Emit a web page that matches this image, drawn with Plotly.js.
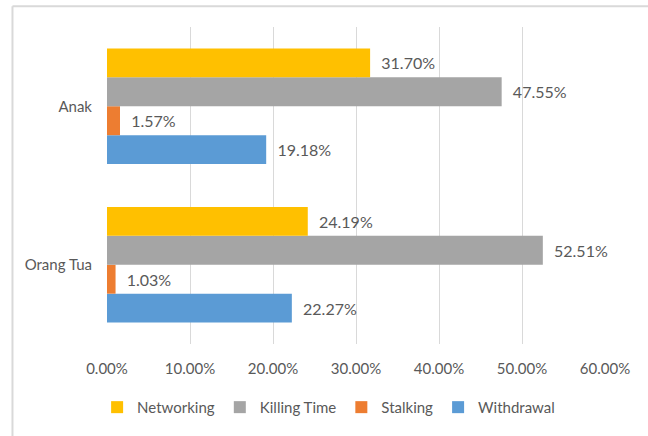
<!DOCTYPE html>
<html>
<head>
<meta charset="utf-8">
<script src="https://cdn.plot.ly/plotly-3.0.1.min.js"></script>
<style>
  html, body { margin: 0; padding: 0; background: #ffffff; }
  #chart { width: 648px; height: 436px; }
</style>
</head>
<body>
<div id="chart"></div>
<script>
const categories = ["Orang Tua", "Anak"];
const networking = [0.2419, 0.3170];
const killingTime = [0.5251, 0.4755];
const stalking = [0.0103, 0.0157];
const withdrawal = [0.2227, 0.1918];
const xTickVals = [0, 0.1, 0.2, 0.3, 0.4, 0.5, 0.6];

const FONT = "Lato, 'DejaVu Sans Condensed', sans-serif";
const TEXT_COLOR = "#595959";

function barTrace(name, values, color) {
  return {
    type: "bar",
    orientation: "h",
    name: name,
    y: categories,
    x: values,
    marker: { color: color },
    text: values,
    texttemplate: "\u00a0\u00a0%{x:.2%}",
    textposition: "outside",
    constraintext: "none",
    cliponaxis: false,
    textfont: { family: FONT, size: 16, color: TEXT_COLOR },
    hoverinfo: "skip"
  };
}

const data = [
  barTrace("Withdrawal", withdrawal, "#5B9BD5"),
  barTrace("Stalking", stalking, "#ED7D31"),
  barTrace("Killing Time", killingTime, "#A5A5A5"),
  barTrace("Networking", networking, "#FFC000")
];

const layout = {
  width: 648,
  height: 436,
  margin: { l: 107, r: 43, t: 27, b: 87 },
  paper_bgcolor: "#ffffff",
  plot_bgcolor: "#ffffff",
  font: { family: FONT, size: 15, color: TEXT_COLOR },
  barmode: "group",
  bargap: 0.27,
  bargroupgap: 0,
  showlegend: true,
  legend: {
    orientation: "h",
    traceorder: "reversed",
    x: 0.445,
    xanchor: "center",
    y: -0.2,
    yanchor: "middle",
    font: { family: FONT, size: 15, color: TEXT_COLOR },
    itemwidth: 30,
    tracegroupgap: 0
  },
  xaxis: {
    range: [0, 0.6],
    tickvals: xTickVals,
    tickformat: ".2%",
    showgrid: true,
    gridcolor: "#d9d9d9",
    gridwidth: 1,
    zeroline: false,
    showline: false,
    ticks: "",
    ticklabelstandoff: 14,
    tickfont: { family: FONT, size: 15, color: TEXT_COLOR },
    fixedrange: true
  },
  yaxis: {
    type: "category",
    showgrid: false,
    zeroline: false,
    showline: false,
    ticks: "",
    ticklabelstandoff: 14,
    tickfont: { family: FONT, size: 15, color: TEXT_COLOR },
    fixedrange: true
  },
  shapes: [
    { type: "line", xref: "paper", yref: "paper", x0: -0.1898, x1: 2, y0: 1.0652, y1: 1.0652,
      line: { color: "#d9d9d9", width: 2 }, layer: "below" },
    { type: "line", xref: "paper", yref: "paper", x0: -0.1898, x1: -0.1898, y0: 1.0652, y1: -1,
      line: { color: "#d9d9d9", width: 2 }, layer: "below" }
  ]
};

Plotly.newPlot("chart", data, layout, { displayModeBar: false, staticPlot: true });
</script>
</body>
</html>
